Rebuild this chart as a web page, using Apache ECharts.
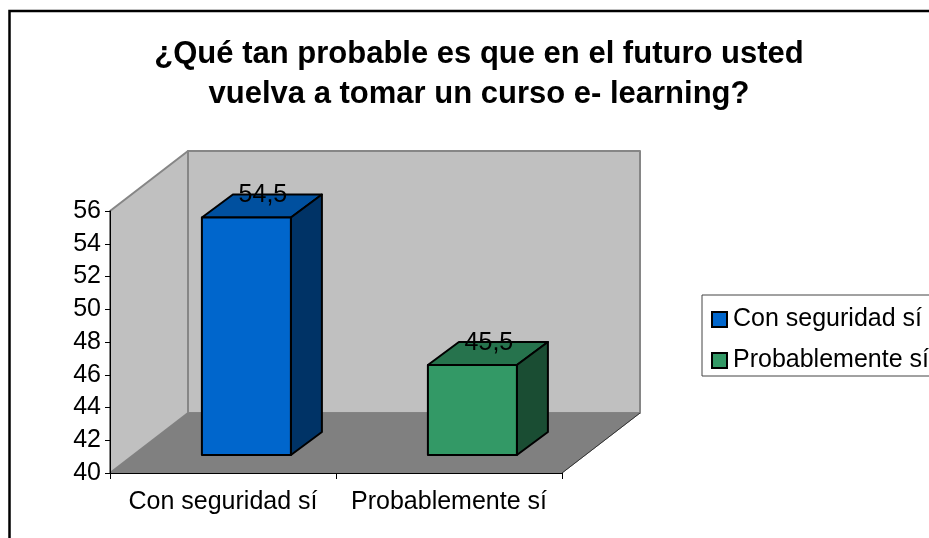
<!DOCTYPE html>
<html>
<head>
<meta charset="utf-8">
<style>
  html, body { margin: 0; padding: 0; background: #fff; overflow: hidden; }
  #main { width: 929px; height: 538px; }
</style>
<script src="https://cdn.jsdelivr.net/npm/echarts@6/dist/echarts.min.js"></script>
</head>
<body>
<div id="main"></div>
<script>
// datos
const categories = ['Con seguridad sí', 'Probablemente sí']
const values = [54.5, 45.5]
const yTicks = { min: 40, max: 56, step: 2 }
const titleLines = ['¿Qué tan probable es que en el futuro usted', 'vuelva a tomar un curso e- learning?']

// colores de cada barra: frente, tapa, lado
const faces = [
  ['#0066cc', '#00509f', '#003366'],
  ['#339966', '#26734d', '#1a4d33']
]

const font = '"Liberation Sans", Arial, sans-serif'
const labelSize = 25
const wallDepth = { x: 78, y: 60 }   // fondo del grafico
const barGap = { x: 23.4, y: 18 }    // separacion de la barra respecto al eje
const barDepth = { x: 31, y: 23 }
const barWidth = 89

// paredes y piso, dibujados dentro del area del grid
function renderWalls(params) {
  const c = params.coordSys
  const l = c.x, r = c.x + c.width, t = c.y, b = c.y + c.height
  const dx = wallDepth.x, dy = wallDepth.y
  const wallStyle = { fill: '#c0c0c0', stroke: '#868686', lineWidth: 2, lineJoin: 'round' }
  return {
    type: 'group',
    children: [
      { type: 'polygon', shape: { points: [[l, b], [l, t], [l + dx, t - dy], [l + dx, b - dy]] }, style: wallStyle },
      { type: 'polygon', shape: { points: [[l + dx, b - dy], [l + dx, t - dy], [r + dx, t - dy], [r + dx, b - dy]] }, style: wallStyle },
      { type: 'polygon', shape: { points: [[l, b], [l + dx, b - dy], [r + dx, b - dy], [r, b]] }, style: { fill: '#808080', stroke: '#808080', lineWidth: 1 } },
      { type: 'polyline', shape: { points: [[r, b], [r + dx, b - dy]] }, style: { fill: 'none', stroke: '#333', lineWidth: 1 } }
    ]
  }
}

// barra 3D: posicion tomada de la escala del eje
function renderBar(params, api) {
  const idx = api.value(0)
  const top = api.coord([idx, api.value(1)])
  const base = api.coord([idx, yTicks.min])
  const x0 = top[0] + barGap.x - barWidth / 2
  const x1 = x0 + barWidth
  const y0 = top[1] - barGap.y
  const y1 = base[1] - barGap.y
  const dx = barDepth.x, dy = barDepth.y
  const color = faces[idx]
  const edge = { stroke: '#000', lineWidth: 2, lineJoin: 'round' }
  return {
    type: 'group',
    children: [
      { type: 'polygon', shape: { points: [[x0, y0], [x0 + dx, y0 - dy], [x1 + dx, y0 - dy], [x1, y0]] }, style: { fill: color[1], ...edge } },
      { type: 'polygon', shape: { points: [[x1, y0], [x1 + dx, y0 - dy], [x1 + dx, y1 - dy], [x1, y1]] }, style: { fill: color[2], ...edge } },
      { type: 'rect', shape: { x: x0, y: y0, width: barWidth, height: y1 - y0 }, style: { fill: color[0], ...edge } },
      {
        type: 'text',
        style: {
          x: (x0 + x1) / 2 + 16.5, y: y0 - 22,
          text: String(api.value(1)).replace('.', ','),
          fill: '#000', font: labelSize + 'px ' + font,
          align: 'center', verticalAlign: 'middle'
        }
      }
    ]
  }
}

const myChart = echarts.init(document.getElementById('main'), null, { renderer: 'canvas' })

const option = {
  animation: false,
  backgroundColor: '#fff',
  title: {
    text: titleLines.join('\n'),
    left: 474,
    top: 29,
    textAlign: 'center',
    textStyle: { fontFamily: font, fontSize: 31, fontWeight: 'bold', color: '#000', lineHeight: 40 }
  },
  legend: {
    orient: 'vertical',
    left: 702,
    top: 295,
    padding: [12, 10, 3, 9],
    itemWidth: 15,
    itemHeight: 15,
    itemGap: 16,
    icon: 'rect',
    data: categories,
    selectedMode: false,
    backgroundColor: '#fff',
    borderColor: '#444',
    borderWidth: 1,
    borderRadius: 0,
    itemStyle: { borderColor: '#000', borderWidth: 2 },
    textStyle: { fontFamily: font, fontSize: labelSize, color: '#000', padding: [0, 0, 0, 1] }
  },
  grid: { left: 110, top: 211, width: 452, height: 262 },
  xAxis: {
    type: 'category',
    data: categories,
    axisLine: { lineStyle: { color: '#000', width: 1 } },
    axisTick: { show: true, interval: 0, alignWithLabel: false, length: 6, lineStyle: { color: '#000' } },
    axisLabel: { interval: 0, hideOverlap: false, fontFamily: font, fontSize: labelSize, color: '#000', margin: 17 },
    z: 5
  },
  yAxis: {
    type: 'value',
    min: yTicks.min,
    max: yTicks.max,
    interval: yTicks.step,
    splitLine: { show: false },
    axisLine: { show: true, lineStyle: { color: '#000', width: 1 } },
    axisTick: { show: true, length: 5, lineStyle: { color: '#000' } },
    axisLabel: { fontFamily: font, fontSize: labelSize, color: '#000', margin: 9 },
    z: 5
  },
  graphic: [
    // marco exterior, cortado por el borde de la imagen
    { type: 'polyline', shape: { points: [[9.5, 538], [9.5, 11], [929, 11]] }, style: { fill: 'none', stroke: '#000', lineWidth: 2.5 }, silent: true }
  ],
  series: [
    { type: 'custom', name: 'paredes', renderItem: renderWalls, data: [[0, yTicks.min]], clip: false, silent: true, z: 1 },
    ...categories.map((name, i) => ({
      type: 'custom',
      name: name,
      renderItem: renderBar,
      data: [[i, values[i]]],
      encode: { x: 0, y: 1 },
      itemStyle: { color: faces[i][0] },
      clip: false,
      silent: true,
      z: 3
    }))
  ]
}

option && myChart.setOption(option)
</script>
</body>
</html>
